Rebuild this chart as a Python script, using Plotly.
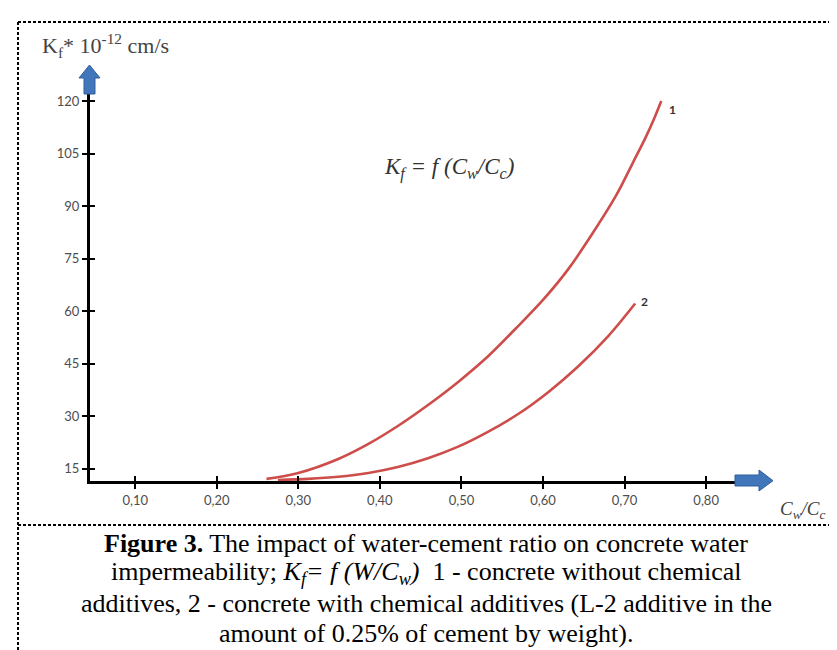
import plotly.graph_objects as go

# ---------------- data ----------------
curve1_x = [0.261, 0.300, 0.349, 0.386, 0.422, 0.459, 0.496, 0.533, 0.566, 0.600, 0.631, 0.661, 0.690, 0.710, 0.726, 0.737, 0.745]
curve1_y = [12.1, 13.8, 17.8, 22.1, 27.2, 33.2, 39.8, 47.2, 54.9, 63.2, 72.0, 82.3, 93.2, 102.3, 109.7, 115.4, 120.0]
curve2_x = [0.275, 0.312, 0.349, 0.386, 0.422, 0.459, 0.496, 0.533, 0.570, 0.606, 0.643, 0.680, 0.713]
curve2_y = [11.8, 12.1, 12.7, 13.8, 15.5, 18.0, 21.3, 25.6, 30.7, 36.8, 44.2, 52.9, 62.2]
x_tick_vals = [0.10, 0.20, 0.30, 0.40, 0.50, 0.60, 0.70, 0.80]
x_tick_text = ["0,10", "0,20", "0,30", "0,40", "0,50", "0,60", "0,70", "0,80"]
y_tick_vals = [15, 30, 45, 60, 75, 90, 105, 120]
curve_names = ["1", "2"]

# ---------------- layout geometry ----------------
W, H = 837, 650
L, R, T, B = 82, 110, 85, 177
PW, PH = W - L - R, H - T - B


def px(x):
    return (x - L) / PW


def py(y):
    return (H - B - y) / PH


RED = "#cd4d4b"
BLUE = "#4176bb"

fig = go.Figure()
for xs, ys, nm in [(curve1_x, curve1_y, curve_names[0]), (curve2_x, curve2_y, curve_names[1])]:
    fig.add_trace(go.Scatter(x=xs, y=ys, mode="lines", name=nm,
                             line=dict(color=RED, width=2.6, shape="spline", smoothing=1.0),
                             showlegend=False, hoverinfo="skip"))

tickfont = dict(family="Lato, Liberation Sans, sans-serif", size=13, color="#4d4d4d")
fig.update_xaxes(range=[0.0446, 0.8354], showgrid=False, zeroline=False,
                 showline=True, linecolor="black", linewidth=3,
                 ticks="outside", ticklen=5, tickwidth=2, tickcolor="black",
                 tickvals=x_tick_vals, ticktext=x_tick_text, tickfont=tickfont,
                 minor=dict(tickmode="array", tickvals=x_tick_vals, ticks="inside",
                            ticklen=5, tickwidth=2, tickcolor="black"))
fig.update_yaxes(range=[11.5, 122.3], showgrid=False, zeroline=False,
                 showline=True, linecolor="black", linewidth=3,
                 ticks="outside", ticklen=5, tickwidth=2, tickcolor="black",
                 tickvals=y_tick_vals, tickfont=tickfont,
                 minor=dict(tickmode="array", tickvals=y_tick_vals, ticks="inside",
                            ticklen=5, tickwidth=2, tickcolor="black"))

shapes = []
dot = dict(color="black", width=2, dash="3px,2px")
# dotted frame
shapes.append(dict(type="line", xref="paper", yref="paper", x0=px(10), x1=px(837), y0=py(14), y1=py(14), line=dot))
shapes.append(dict(type="line", xref="paper", yref="paper", x0=px(10), x1=px(10), y0=py(14), y1=py(650), line=dot))
shapes.append(dict(type="line", xref="paper", yref="paper", x0=px(10), x1=px(837), y0=py(517), y1=py(517), line=dot))


def poly(points):
    d = "M " + " L ".join(f"{px(a):.5f},{py(b):.5f}" for a, b in points) + " Z"
    return dict(type="path", xref="paper", yref="paper", path=d,
                fillcolor=BLUE, line=dict(color="#2f5f9e", width=1), layer="above")


# y-axis arrow (up)
shapes.append(poly([(76, 86), (76, 70), (71, 70), (81.5, 57), (92, 70), (87, 70), (87, 86)]))
# x-axis arrow (right)
shapes.append(poly([(727, 467), (751, 467), (751, 462), (765, 472.7), (751, 483), (751, 478), (727, 478)]))

serif = "Liberation Serif, Times New Roman, serif"
ann = []
ann.append(dict(x=px(32), y=py(37), xref="paper", yref="paper", xanchor="left", yanchor="middle",
                text="K<sub>f</sub>* 10<sup>-12</sup> cm/s", showarrow=False,
                font=dict(family=serif, size=22, color="#444444")))
ann.append(dict(x=px(441), y=py(160), xref="paper", yref="paper", xanchor="center", yanchor="middle",
                text="<i>K<sub>f</sub> = f (C<sub>w</sub>/C<sub>c</sub>)</i>", showarrow=False,
                font=dict(family=serif, size=23, color="#333333")))
ann.append(dict(x=px(670), y=py(92), xref="paper", yref="paper", text="<b>1</b>", showarrow=False,
                font=dict(family="Lato, sans-serif", size=12, color="#333333")))
ann.append(dict(x=px(642), y=py(293), xref="paper", yref="paper", text="<b>2</b>", showarrow=False,
                font=dict(family="Lato, sans-serif", size=12, color="#333333")))
ann.append(dict(x=px(795), y=py(502), xref="paper", yref="paper", xanchor="center", yanchor="middle",
                text="<i>C<sub>w</sub>/C<sub>c</sub></i>", showarrow=False,
                font=dict(family=serif, size=19, color="#444444")))
caption_lines = [
    "<b>Figure 3.</b> The impact of water-cement ratio on concrete water",
    "impermeability; <i>K<sub>f</sub>= f (W/C<sub>w</sub>)</i>  1 - concrete without chemical",
    "additives, 2 - concrete with chemical additives (L-2 additive in the",
    "amount of 0.25% of cement by weight).",
]
for i, line in enumerate(caption_lines):
    ann.append(dict(x=px(418), y=py(535 + 30 * i), xref="paper", yref="paper",
                    xanchor="center", yanchor="middle", text=line, showarrow=False,
                    font=dict(family=serif, size=26, color="black")))

fig.update_layout(width=W, height=H, margin=dict(l=L, r=R, t=T, b=B),
                  paper_bgcolor="white", plot_bgcolor="white",
                  shapes=shapes, annotations=ann)

fig.write_html("out.html")
